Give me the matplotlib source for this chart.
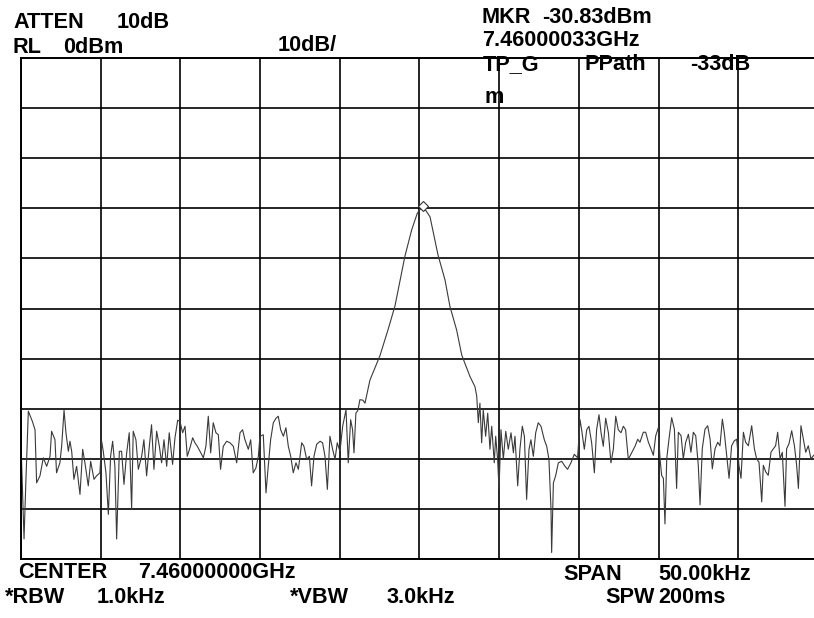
import matplotlib
matplotlib.use("Agg")
import matplotlib.pyplot as plt
import numpy as np

# ---- data (offset from centre in kHz, level in dBm) ----
noise_left_khz = [-25.0, -24.81, -24.69, -24.54, -24.29, -24.12, -24.02, -23.81, -23.60, -23.39,
                  -23.18, -23.08, -22.87, -22.77, -22.56, -22.45, -22.30, -22.18, -22.03, -21.93,
                  -21.82, -21.68, -21.51, -21.30, -21.13, -20.99, -20.78, -20.63, -20.42, -20.26,
                  -20.05, -19.94, -19.84, -19.67, -19.52, -19.38, -19.25, -19.11, -19.00, -18.83,
                  -18.69, -18.54, -18.37, -18.21, -18.06, -17.96, -17.79, -17.64, -17.43, -17.29,
                  -17.12, -16.95, -16.81, -16.66, -16.49, -16.32, -16.18, -16.03, -15.86, -15.70,
                  -15.49, -15.34, -15.17, -15.03, -14.86, -14.71, -14.57, -14.40, -14.23, -14.09,
                  -13.94, -13.77, -13.56, -13.40, -13.25, -13.10, -12.94, -12.77, -12.62, -12.48,
                  -12.31, -12.10, -11.89, -11.68, -11.47, -11.26, -11.10, -10.95, -10.74, -10.59,
                  -10.43, -10.26, -10.11, -10.01, -9.80, -9.63, -9.49, -9.34, -9.17, -9.00,
                  -8.86, -8.71, -8.54, -8.38, -8.23, -8.08, -7.92, -7.75, -7.60, -7.39,
                  -7.25, -7.08, -6.91, -6.77, -6.62, -6.45, -6.24, -6.08, -5.93, -5.78,
                  -5.62, -5.45, -5.30, -5.16, -4.99, -4.82, -4.61, -4.47, -4.32, -4.20,
                  -4.11, -3.99, -3.86, -3.74, -3.55, -3.42]
noise_left_dbm = [-76.8, -96.0, -84.1, -70.5, -72.5, -74.2, -84.8, -83.4, -79.8, -81.5,
                  -79.5, -74.5, -76.2, -82.8, -80.8, -77.5, -70.3, -74.8, -78.5, -76.5,
                  -78.5, -84.1, -81.5, -87.1, -78.1, -80.8, -85.4, -80.5, -84.1, -83.4,
                  -82.8, -76.5, -78.5, -82.8, -91.1, -79.5, -76.5, -81.5, -96.0, -78.5,
                  -78.5, -85.1, -78.8, -74.8, -90.1, -74.5, -76.2, -82.1, -79.5, -76.2,
                  -83.4, -77.5, -73.2, -82.1, -74.5, -77.5, -80.8, -76.2, -81.5, -74.8,
                  -81.1, -75.8, -72.3, -72.5, -74.8, -73.5, -79.5, -77.8, -75.8, -76.8,
                  -77.5, -78.5, -79.8, -77.5, -71.5, -78.8, -72.8, -74.8, -75.2, -82.1,
                  -77.5, -76.5, -76.8, -77.5, -80.8, -74.8, -74.2, -76.2, -78.1, -76.2,
                  -82.8, -81.8, -79.5, -75.5, -75.2, -86.8, -81.5, -76.2, -72.8, -71.9,
                  -71.5, -74.2, -75.5, -73.8, -77.5, -79.5, -82.8, -80.8, -82.1, -76.8,
                  -77.5, -80.1, -79.5, -85.4, -79.5, -77.1, -76.5, -76.8, -79.5, -86.1,
                  -75.5, -78.1, -80.1, -76.8, -78.5, -73.5, -70.2, -80.8, -72.2, -74.2,
                  -78.8, -70.9, -70.3, -68.2, -68.3, -68.9]

carrier_khz = [-3.11, -2.48, -1.98, -1.54, -0.91, -0.49, -0.14, 0.20, 0.66, 1.16,
               1.60, 1.91, 2.33, 2.65, 3.17, 3.48]
carrier_dbm = [-64.3, -59.4, -54.3, -49.5, -39.5, -34.3, -31.0, -29.5, -31.7, -39.3,
               -44.3, -49.6, -54.3, -59.3, -63.6, -65.6]

noise_right_khz = [3.59, 3.69, 3.79, 3.90, 4.00, 4.15, 4.28, 4.42, 4.53, 4.69,
                   4.78, 4.90, 4.99, 5.11, 5.26, 5.41, 5.57, 5.74, 5.89, 5.99,
                   6.16, 6.30, 6.45, 6.58, 6.72, 6.87, 6.99, 7.14, 7.29, 7.45,
                   7.62, 7.83, 7.98, 8.12, 8.25, 8.29, 8.40, 8.54, 8.71, 8.92,
                   9.13, 9.29, 9.50, 9.71, 9.92, 10.07, 10.17, 10.34, 10.49, 10.63,
                   10.80, 10.97, 11.11, 11.26, 11.39, 11.53, 11.68, 11.85, 12.01, 12.16,
                   12.31, 12.47, 12.64, 12.79, 12.93, 13.10, 13.31, 13.52, 13.69, 13.83,
                   14.04, 14.19, 14.36, 14.52, 14.67, 14.82, 14.98, 15.09, 15.19, 15.30,
                   15.40, 15.51, 15.65, 15.82, 15.99, 16.13, 16.24, 16.41, 16.55, 16.70,
                   16.87, 17.03, 17.18, 17.33, 17.49, 17.60, 17.74, 17.91, 18.08, 18.23,
                   18.37, 18.54, 18.71, 18.85, 19.00, 19.12, 19.27, 19.42, 19.58, 19.75,
                   19.90, 20.04, 20.17, 20.32, 20.46, 20.63, 20.84, 21.01, 21.15, 21.30,
                   21.47, 21.57, 21.72, 21.88, 22.05, 22.20, 22.34, 22.47, 22.62, 22.76,
                   22.93, 23.03, 23.18, 23.35, 23.52, 23.66, 23.77, 23.93, 24.08, 24.23,
                   24.39, 24.56, 24.73]
noise_right_dbm = [-67.5, -72.8, -68.9, -76.8, -70.2, -75.5, -70.9, -78.1, -73.5, -80.8,
                   -75.5, -80.1, -86.1, -74.2, -80.1, -74.5, -78.1, -74.8, -78.8, -75.5,
                   -85.4, -78.1, -73.5, -75.5, -88.1, -78.1, -76.2, -79.5, -74.8, -72.8,
                   -73.5, -76.2, -77.5, -80.1, -90.1, -98.7, -84.8, -83.4, -80.8, -80.5,
                   -81.5, -82.1, -80.8, -79.1, -79.8, -72.2, -74.2, -78.1, -74.2, -73.5,
                   -76.8, -82.8, -74.2, -71.2, -74.8, -77.5, -71.9, -74.8, -80.8, -78.1,
                   -71.5, -74.2, -74.8, -73.5, -74.2, -80.1, -78.8, -77.5, -76.1, -76.7,
                   -74.7, -74.7, -76.7, -78.0, -79.3, -75.4, -73.8, -80.0, -83.3, -83.9,
                   -93.0, -80.0, -76.1, -71.8, -74.1, -85.9, -74.7, -75.4, -80.0, -76.7,
                   -75.1, -78.7, -74.7, -75.4, -81.3, -89.2, -78.0, -74.1, -73.4, -76.1,
                   -82.0, -78.0, -76.7, -77.4, -72.1, -74.7, -79.3, -83.9, -77.4, -76.4,
                   -76.1, -81.3, -83.9, -74.7, -76.7, -77.4, -73.4, -78.0, -80.0, -80.7,
                   -88.6, -81.3, -82.6, -83.3, -78.7, -78.0, -77.4, -74.7, -80.0, -78.7,
                   -89.5, -78.0, -77.0, -74.4, -77.4, -81.3, -85.9, -73.4, -76.1, -78.7,
                   -77.4, -80.0, -79.3]

marker_khz = 0.20
marker_dbm = -29.5

freq = np.array(noise_left_khz + carrier_khz + noise_right_khz)
level = np.array(noise_left_dbm + carrier_dbm + noise_right_dbm)

# ---- figure ----
W, H = 814, 618
fig = plt.figure(figsize=(W / 100, H / 100), dpi=100)
fig.patch.set_facecolor("white")

left_px, right_px, top_px, bot_px = 21, 818, 58, 559
ax = fig.add_axes([left_px / W, 1 - bot_px / H, (right_px - left_px) / W, (bot_px - top_px) / H])
ax.set_xlim(-25, 25)
ax.set_ylim(-100, 0)
ax.set_xticks(np.arange(-25, 26, 5))
ax.set_yticks(np.arange(-100, 1, 10))
ax.grid(True, color="black", linewidth=1.2)
ax.tick_params(length=0, labelbottom=False, labelleft=False)
for s in ax.spines.values():
    s.set_color("black")
    s.set_linewidth(1.4)

ax.plot(freq, level, color="#3a3a3a", linewidth=0.8)
ax.plot([marker_khz], [marker_dbm], marker="D", markersize=5, markerfacecolor="white",
        markeredgecolor="#333333", markeredgewidth=0.8, linestyle="none")

font = dict(family=["Liberation Sans", "DejaVu Sans"], fontweight="bold", fontsize=15.6, color="black")

def t(x, y, s):
    fig.text(x / W, 1 - y / H, s, ha="left", va="baseline", **font)

t(13, 28, "ATTEN")
t(117, 28, "10dB")
t(13, 53, "RL")
t(63, 53, "0dBm")
t(278, 51, "10dB/")
t(482, 23, "MKR")
t(542, 23, "-30.83dBm")
t(482, 46, "7.46000033GHz")
t(483, 70, "TP_G")
t(585, 70, "PPath")
t(690, 70, "-33dB")
t(485, 103, "m")
t(18, 578, "CENTER")
t(138, 578, "7.46000000GHz")
t(5, 603, "*RBW")
t(97, 603, "1.0kHz")
t(290, 603, "*VBW")
t(387, 603, "3.0kHz")
t(563, 580, "SPAN")
t(658, 580, "50.00kHz")
t(605, 603, "SPW")
t(658, 603, "200ms")

fig.savefig("out.png", dpi=100, facecolor="white")
